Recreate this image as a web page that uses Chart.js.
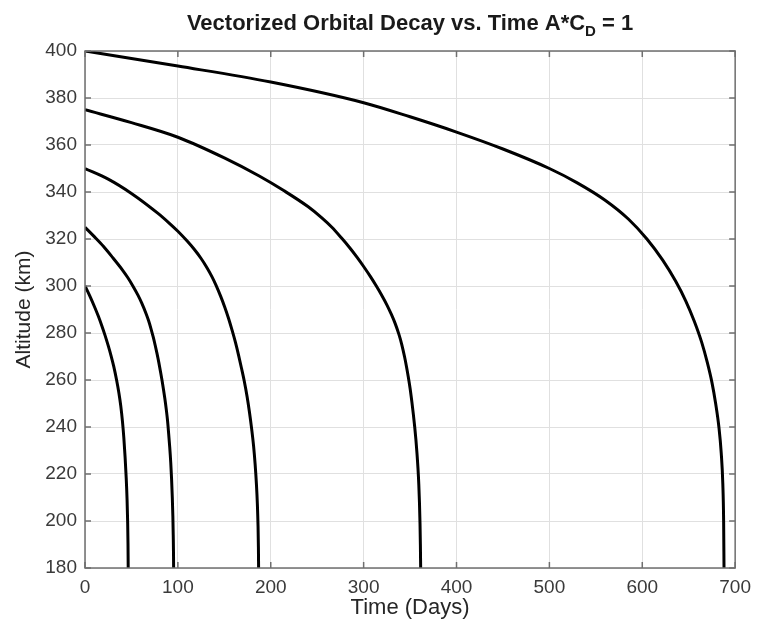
<!DOCTYPE html>
<html>
<head>
<meta charset="utf-8">
<script src="https://cdn.jsdelivr.net/npm/chart.js@4.4.1/dist/chart.umd.min.js"></script>
<style>
  html, body { margin: 0; padding: 0; background: #fff; }
</style>
</head>
<body>
<canvas id="myChart" width="759" height="627"></canvas>
<script>
// title is split so the D can be drawn as a subscript
const titleParts = ["Vectorized Orbital Decay vs. Time A*C", "D", " = 1"];
const xLabel = "Time (Days)";
const yLabel = "Altitude (km)";
const xTicks = [0, 100, 200, 300, 400, 500, 600, 700];
const yTicks = [180, 200, 220, 240, 260, 280, 300, 320, 340, 360, 380, 400];

// days / altitude (km) for each starting altitude
const days400 = [0, 100, 200, 300, 350, 400, 450, 500, 530, 560, 585, 605, 622, 636, 647, 656, 664, 670, 675, 679, 682.5, 685, 686.7, 687.6, 688];
const alt400  = [400, 393.6, 386.8, 378, 372, 365.5, 358.3, 350, 343.9, 336.5, 328.5, 320, 311, 302, 293.5, 285, 276, 267.5, 259, 250, 240, 229, 216, 200, 180];

const days375 = [0, 50, 100, 150, 187.6, 214.4, 240, 255, 265.8, 276, 285, 293, 300, 307, 313.5, 319, 325, 330, 334, 338, 341, 344, 346, 348, 350, 352, 353.5, 355, 356.3, 357.5, 358.5, 359.4, 360.1, 360.7, 361.1, 361.4];
const alt375  = [375, 369.5, 363.3, 354.5, 346.8, 340.5, 333.8, 329, 325, 320.5, 316.3, 312.2, 308.3, 304.2, 300.1, 296.4, 292, 287.8, 284, 279.4, 275.2, 270, 266, 261.5, 256.5, 250.5, 245.5, 240, 234.5, 228.5, 222.5, 215.5, 208, 199, 190, 180];

const days350 = [0, 25, 50, 78.6, 90, 100, 110, 118, 125, 131, 136.5, 141, 146, 150.5, 154.5, 158.5, 162, 165.5, 168.5, 171.5, 174.5, 177, 179.5, 181.5, 183.2, 184.6, 185.6, 186.3, 186.7, 186.9];
const alt350  = [350, 345.5, 339.4, 330.9, 327, 323.3, 319.1, 315.4, 311.7, 308, 304.1, 300.4, 295.7, 291, 286.3, 281, 276, 270.3, 265, 259.5, 253, 246.5, 239, 232, 224, 215.5, 207, 198, 189, 180];

const days325 = [0, 10, 20, 30, 40, 46, 52, 57, 61, 66, 68.5, 71, 73.5, 75.5, 77.5, 79.5, 81.5, 83, 84.5, 86, 87.5, 88.8, 90, 91.2, 92.3, 93.2, 94, 94.6, 95, 95.3, 95.4];
const alt325  = [325, 321, 316.8, 312, 307, 303.6, 299.7, 296.1, 292.8, 288, 285.2, 281.9, 278.2, 274.9, 271.3, 267.4, 263.1, 259.7, 256, 252, 247.5, 243, 237.5, 231.5, 225, 218, 210, 202, 194, 186, 180];

const days300 = [0, 5, 10, 14.3, 18, 21.5, 25, 28, 31, 34, 36.5, 38.5, 40.3, 41.8, 43.2, 44.4, 45.3, 45.9, 46.3, 46.5];
const alt300  = [300, 295.9, 291.4, 287.2, 283.2, 279.1, 274.6, 270.4, 265.7, 260, 254.5, 249, 242.5, 235.5, 227, 218, 209, 200, 190, 180];

const series = [
    [days400, alt400],
    [days375, alt375],
    [days350, alt350],
    [days325, alt325],
    [days300, alt300],
];

const FONT = "'Liberation Sans', Arial, Helvetica, sans-serif";
Chart.defaults.font.family = FONT;

const boxColor = "#6f6f6f";

// MATLAB style box with inward ticks and the title with subscript
const boxPlugin = {
    id: "matlabBox",
    afterDraw(chart) {
        const { ctx, chartArea: a, scales: { x, y } } = chart;
        ctx.save();
        ctx.strokeStyle = boxColor;
        ctx.lineWidth = 1.5;
        ctx.strokeRect(a.left, a.top, a.right - a.left, a.bottom - a.top);
        ctx.beginPath();
        xTicks.forEach(v => {
            const px = x.getPixelForValue(v);
            ctx.moveTo(px, a.bottom); ctx.lineTo(px, a.bottom - 6);
            ctx.moveTo(px, a.top); ctx.lineTo(px, a.top + 6);
        });
        yTicks.forEach(v => {
            const py = y.getPixelForValue(v);
            ctx.moveTo(a.left, py); ctx.lineTo(a.left + 6, py);
            ctx.moveTo(a.right, py); ctx.lineTo(a.right - 6, py);
        });
        ctx.stroke();

        const mainFont = "bold 22px " + FONT;
        const subFont = "bold 15px " + FONT;
        ctx.fillStyle = "#1a1a1a";
        ctx.textBaseline = "alphabetic";
        ctx.textAlign = "left";
        ctx.font = mainFont;
        const w1 = ctx.measureText(titleParts[0]).width;
        const w3 = ctx.measureText(titleParts[2]).width;
        ctx.font = subFont;
        const w2 = ctx.measureText(titleParts[1]).width;
        let tx = (a.left + a.right) / 2 - (w1 + w2 + w3) / 2;
        const base = 30;
        ctx.font = mainFont;
        ctx.fillText(titleParts[0], tx, base);
        tx += w1;
        ctx.font = subFont;
        ctx.fillText(titleParts[1], tx, base + 6);
        tx += w2;
        ctx.font = mainFont;
        ctx.fillText(titleParts[2], tx, base);
        ctx.restore();
    },
};

const ctx1 = document.getElementById("myChart").getContext("2d");

const myChart = new Chart(ctx1, {
    type: "scatter",
    data: {
        datasets: series.map(([d, h]) => ({
            data: d.map((v, i) => ({ x: v, y: h[i] })),
            showLine: true,
            borderColor: "#000000",
            borderWidth: 3,
            pointRadius: 0,
            cubicInterpolationMode: "monotone",
        })),
    },
    options: {
        responsive: false,
        animation: false,
        layout: { padding: { top: 51, right: 21, bottom: 0, left: 0 } },
        scales: {
            x: {
                type: "linear",
                min: 0,
                max: 700,
                afterBuildTicks: s => { s.ticks = xTicks.map(v => ({ value: v })); },
                afterFit: s => { s.height = 59; },
                ticks: { color: "#3a3a3a", font: { size: 19 }, padding: 8, maxRotation: 0 },
                grid: { color: "#e0e0e0", drawTicks: false },
                border: { display: false },
                title: { display: true, text: xLabel, color: "#262626", font: { size: 22 }, padding: { top: 0, bottom: 6 } },
            },
            y: {
                min: 180,
                max: 400,
                afterBuildTicks: s => { s.ticks = yTicks.map(v => ({ value: v })); },
                afterFit: s => { s.width = 85; },
                ticks: { color: "#3a3a3a", font: { size: 19 }, padding: 8 },
                grid: { color: "#e0e0e0", drawTicks: false },
                border: { display: false },
                title: { display: true, text: yLabel, color: "#262626", font: { size: 21 }, padding: { top: 12, bottom: 0 } },
            },
        },
        plugins: {
            legend: { display: false },
            tooltip: { enabled: false },
        },
    },
    plugins: [boxPlugin],
});
</script>
</body>
</html>
